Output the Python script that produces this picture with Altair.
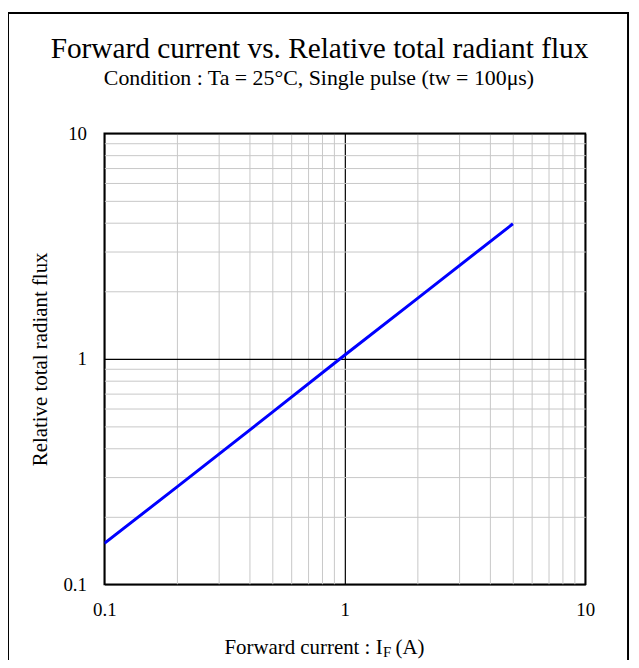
import altair as alt
import pandas as pd

# ---- data ----
current = [0.1, 0.2, 0.5, 1, 2, 5]
flux = [0.152, 0.27, 0.58, 1.04, 1.85, 3.97]
tick_values = [0.1, 0.2, 0.3, 0.4, 0.5, 0.6, 0.7, 0.8, 0.9,
               1, 2, 3, 4, 5, 6, 7, 8, 9, 10]
tick_labels = ["0.1", "1", "10"]

title_text = "Forward current vs. Relative total radiant flux"
subtitle_text = "Condition : Ta = 25°C, Single pulse (tw = 100μs)"
x_title_main = "Forward current : I"
x_title_sub = "F"
x_title_end = "(A)"
y_title = "Relative total radiant flux"

FONT = "Liberation Serif"
df = pd.DataFrame({"current": current, "flux": flux})

label_expr = (
    f"datum.value == 0.1 ? '{tick_labels[0]}' : "
    f"datum.value == 1 ? '{tick_labels[1]}' : "
    f"datum.value == 10 ? '{tick_labels[2]}' : ''"
)
major_test = "datum.value == 0.1 || datum.value == 1 || datum.value == 10"
grid_color = {"condition": {"test": major_test, "value": "#000000"}, "value": "#c8c8c8"}
grid_width = {"condition": {"test": major_test, "value": 1.2}, "value": 1}

common_axis = dict(
    values=tick_values,
    labelExpr=label_expr,
    ticks=False,
    domain=False,
    gridColor=grid_color,
    gridWidth=grid_width,
    labelFont=FONT,
    labelFontSize=19,
    labelColor="black",
    labelOverlap=False,
    labelFlush=False,
)

line = alt.Chart(df).mark_line(color="#0000ff", strokeWidth=3, clip=True).encode(
    x=alt.X(
        "current:Q",
        scale=alt.Scale(type="log", domain=[0.1, 10], nice=False),
        axis=alt.Axis(title=None, labelPadding=16, **common_axis),
    ),
    y=alt.Y(
        "flux:Q",
        scale=alt.Scale(type="log", domain=[0.1, 10], nice=False),
        axis=alt.Axis(
            title=y_title,
            labelPadding=18,
            titleFont=FONT,
            titleFontSize=21,
            titleFontWeight="normal",
            titleColor="black",
            titleX=-64,
            titleY=227,
            titleAngle=270,
            titleAlign="center",
            titleBaseline="middle",
            **common_axis,
        ),
    ),
)

one = alt.Data(values=[{}])


def label(text, size, x, y, align="center"):
    return alt.Chart(one).mark_text(
        text=text, font=FONT, fontSize=size, align=align,
        baseline="alphabetic", color="black"
    ).encode(x=alt.value(x), y=alt.value(y))


title = label(title_text, 29.5, 216.5, -76)
subtitle = label(subtitle_text, 22, 216, -49)
xt_main = label(x_title_main, 21, 280, 524, "right")
xt_sub = label(x_title_sub, 15, 280.5, 527, "left")
xt_end = label(x_title_end, 21, 293, 524, "left")

frame = alt.Chart(one).mark_rect(filled=False, stroke="black", strokeWidth=2).encode(
    x=alt.value(-97), x2=alt.value(527), y=alt.value(-121), y2=alt.value(560)
)

chart = (
    alt.layer(line, title, subtitle, xt_main, xt_sub, xt_end, frame)
    .properties(
        width=484,
        height=454,
        autosize=alt.AutoSizeParams(type="none"),
        padding={"left": 97, "top": 124, "right": 46, "bottom": 74},
        background="white",
    )
    .configure_view(stroke="black", strokeWidth=1.8)
)

chart.save("out.html", embed_options={"renderer": "svg", "actions": False})
